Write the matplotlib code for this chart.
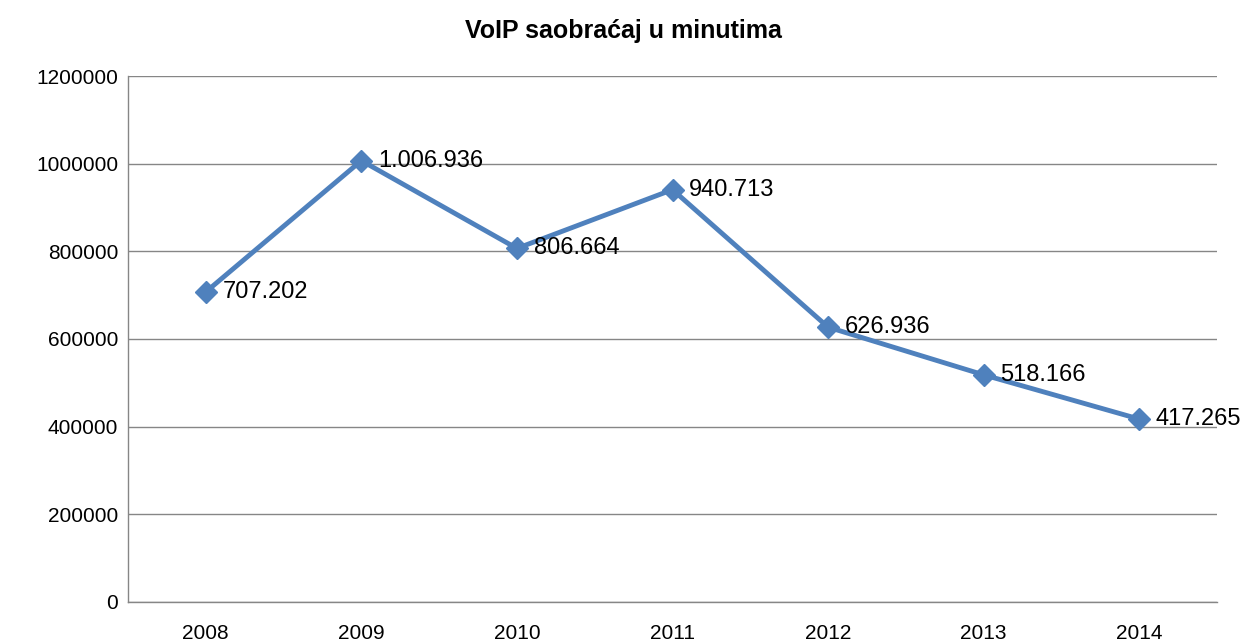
import matplotlib
matplotlib.use('Agg')
import matplotlib.pyplot as plt

# VoIP saobraćaj u minutima, 2008-2014
godine = ['2008', '2009', '2010', '2011', '2012', '2013', '2014']
minuti = [707202, 1006936, 806664, 940713, 626936, 518166, 417265]
oznake = ['707.202', '1.006.936', '806.664', '940.713', '626.936', '518.166', '417.265']
y_ticks = [0, 200000, 400000, 600000, 800000, 1000000, 1200000]

plt.rcParams['font.family'] = ['Liberation Sans', 'DejaVu Sans']

fig = plt.figure(figsize=(12.47, 6.43), dpi=100)
ax = fig.add_axes([0.1026, 0.0638, 0.8734, 0.818])

x = list(range(len(godine)))
ax.plot(x, minuti, color='#4F81BD', linewidth=3.5, marker='D', markersize=11,
        zorder=3)

# oznake vrijednosti desno od tačaka
for xi, yi, txt in zip(x, minuti, oznake):
    ax.annotate(txt, (xi, yi), xytext=(12, 0), textcoords='offset points',
                ha='left', va='center', fontsize=17, color='black')

ax.set_xlim(-0.5, len(godine) - 0.5)
ax.set_ylim(0, 1200000)
ax.set_xticks(x)
ax.set_xticklabels(godine)
ax.set_yticks(y_ticks)
ax.set_yticklabels([str(v) for v in y_ticks])
ax.tick_params(axis='both', length=0, labelsize=15, colors='black')
ax.tick_params(axis='x', pad=16)
ax.tick_params(axis='y', pad=7)

ax.yaxis.grid(True, color='#868686', linewidth=1)
ax.set_axisbelow(True)
for s in ['top', 'right']:
    ax.spines[s].set_visible(False)
for s in ['left', 'bottom']:
    ax.spines[s].set_color('#868686')
    ax.spines[s].set_linewidth(1)

fig.text(0.5, 0.952, 'VoIP saobraćaj u minutima', ha='center', va='center',
         fontsize=18, fontweight='bold')

fig.savefig('out.png', dpi=100)
